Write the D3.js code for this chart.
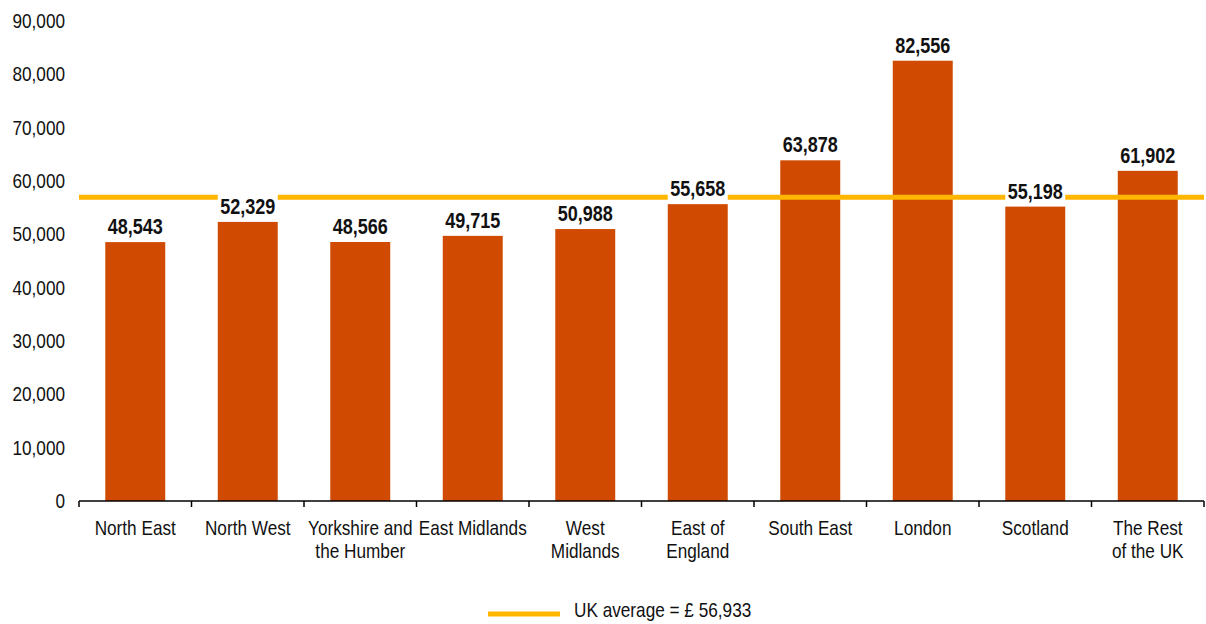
<!DOCTYPE html>
<html>
<head>
<meta charset="utf-8">
<script src="https://cdn.jsdelivr.net/npm/d3@7"></script>
<style>
  html, body { margin: 0; padding: 0; background: #fff; }
  svg { display: block; }
  .tick-label, .cat-label, .legend-label { font-family: "Liberation Sans", Arial, sans-serif; font-size: 20px; fill: #111; }
  .value-label { font-family: "Liberation Sans", Arial, sans-serif; font-size: 22px; font-weight: bold; fill: #111; }
</style>
</head>
<body>
<svg id="chart" width="1206" height="624"></svg>
<script>
// Average salary by region (£)
const regions = ["North East", "North West", "Yorkshire and the Humber", "East Midlands", "West Midlands",
                 "East of England", "South East", "London", "Scotland", "The Rest of the UK"];
const regionLabelLines = [["North East"], ["North West"], ["Yorkshire and", "the Humber"], ["East Midlands"],
                          ["West", "Midlands"], ["East of", "England"], ["South East"], ["London"],
                          ["Scotland"], ["The Rest", "of the UK"]];
const salaries = [48543, 52329, 48566, 49715, 50988, 55658, 63878, 82556, 55198, 61902];
const ukAverage = 56933;
// regions whose value label interrupts the average line
const averageLineBreaks = ["North West", "East of England", "Scotland"];
const yTicks = [0, 10000, 20000, 30000, 40000, 50000, 60000, 70000, 80000, 90000];

const svg = d3.select("#chart");
const plotLeft = 79, plotRight = 1204, plotTop = 21, plotBottom = 501;
const narrow = 0.86;      // horizontal squeeze for the condensed lettering
const narrowBold = 0.82;

const x = d3.scaleBand().domain(regions).range([plotLeft, plotRight])
  .paddingInner(0.467).paddingOuter(0.2335);
const y = d3.scaleLinear().domain([0, 90000]).range([plotBottom, plotTop]);
const fmt = d3.format(",");
const place = (px, py, sx) => `translate(${px},${py}) scale(${sx},1)`;

// y tick labels (no axis line)
svg.append("g").selectAll("text").data(yTicks).join("text")
  .attr("class", "tick-label")
  .attr("transform", d => place(65, y(d), narrow))
  .attr("dy", "0.35em").attr("text-anchor", "end")
  .text(d => fmt(d));

// bars
svg.append("g").selectAll("rect").data(regions).join("rect")
  .attr("x", d => x(d)).attr("width", x.bandwidth())
  .attr("y", (d, i) => y(salaries[i]))
  .attr("height", (d, i) => y(0) - y(salaries[i]))
  .attr("fill", "#D04A02");

// UK average line, drawn in segments around the interrupted labels
const breaks = averageLineBreaks.map(r => [x(r), x(r) + x.bandwidth()]).sort((a, b) => a[0] - b[0]);
const segments = [];
let segStart = plotLeft;
breaks.forEach(b => { segments.push([segStart, b[0]]); segStart = b[1]; });
segments.push([segStart, plotRight]);
svg.append("g").selectAll("line").data(segments).join("line")
  .attr("x1", d => d[0]).attr("x2", d => d[1])
  .attr("y1", y(ukAverage)).attr("y2", y(ukAverage))
  .attr("stroke", "#FFB600").attr("stroke-width", 5);

// value labels
svg.append("g").selectAll("text").data(regions).join("text")
  .attr("class", "value-label")
  .attr("transform", (d, i) => place(x(d) + x.bandwidth() / 2, y(salaries[i]) - 8, narrowBold))
  .attr("text-anchor", "middle")
  .text((d, i) => fmt(salaries[i]));

// x axis with ticks at category boundaries
const step = x.step();
const xAxis = svg.append("g");
xAxis.append("line").attr("x1", plotLeft).attr("x2", plotRight)
  .attr("y1", plotBottom).attr("y2", plotBottom)
  .attr("stroke", "#000").attr("stroke-width", 1.5);
xAxis.selectAll("line.tk").data(d3.range(regions.length + 1)).join("line")
  .attr("class", "tk")
  .attr("x1", i => plotLeft + i * step).attr("x2", i => plotLeft + i * step)
  .attr("y1", plotBottom).attr("y2", plotBottom + 6)
  .attr("stroke", "#000").attr("stroke-width", 1.5);

// category labels
const cat = svg.append("g").selectAll("text").data(regions).join("text")
  .attr("class", "cat-label")
  .attr("transform", d => place(x(d) + x.bandwidth() / 2, 535, narrow))
  .attr("text-anchor", "middle");
cat.each(function(d, i) {
  d3.select(this).selectAll("tspan").data(regionLabelLines[i]).join("tspan")
    .attr("x", 0)
    .attr("dy", (t, j) => j === 0 ? 0 : 23)
    .text(t => t);
});

// legend
const legend = svg.append("g");
legend.append("line").attr("x1", 488).attr("x2", 560).attr("y1", 614).attr("y2", 614)
  .attr("stroke", "#FFB600").attr("stroke-width", 5);
legend.append("text").attr("class", "legend-label")
  .attr("transform", place(574, 617, narrow))
  .text("UK average = £ " + fmt(ukAverage));
</script>
</body>
</html>
